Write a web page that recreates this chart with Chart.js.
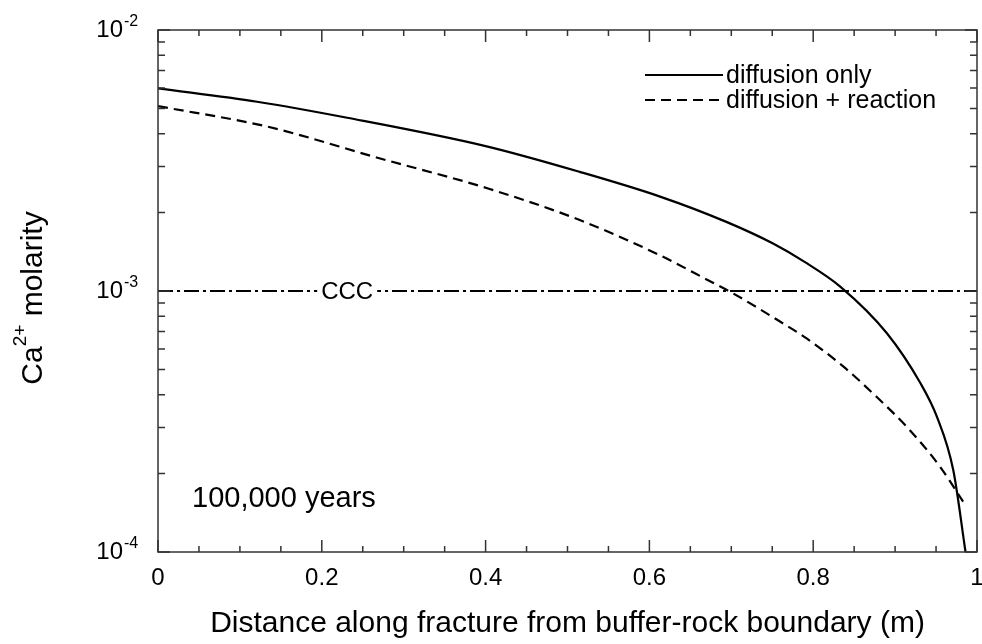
<!DOCTYPE html>
<html>
<head>
<meta charset="utf-8">
<script src="https://cdn.jsdelivr.net/npm/chart.js@4/dist/chart.umd.min.js"></script>
<style>
html,body{margin:0;padding:0;background:#fff;}
canvas{display:block;}
</style>
</head>
<body>
<canvas id="c" width="982" height="644"></canvas>
<script>
// ---- data ----
const seriesNames = ['diffusion only', 'diffusion + reaction', 'CCC'];
const xSolid = [0, 0.121, 0.231, 0.40, 0.515, 0.613, 0.694, 0.751, 0.79, 0.833, 0.89, 0.931, 0.951, 0.971, 0.986];
const ySolid = [5.98e-3, 5.31e-3, 4.61e-3, 3.59e-3, 2.86e-3, 2.30e-3, 1.84e-3, 1.52e-3, 1.29e-3, 1.04e-3, 6.89e-4, 4.43e-4, 3.30e-4, 2.06e-4, 1.0e-4];
const xDashed = [0, 0.134, 0.268, 0.403, 0.515, 0.613, 0.674, 0.702, 0.755, 0.792, 0.837, 0.877, 0.918, 0.955, 0.983];
const yDashed = [5.11e-3, 4.26e-3, 3.24e-3, 2.47e-3, 1.87e-3, 1.37e-3, 1.09e-3, 9.8e-4, 7.79e-4, 6.58e-4, 5.13e-4, 3.94e-4, 2.93e-4, 2.12e-4, 1.56e-4];
const xCCC = [0, 1];
const yCCC = [1e-3, 1e-3];
const cccLabelX = 0.231;

const xMajorTicks = [0, 0.2, 0.4, 0.6, 0.8, 1];
const xTickLabels = ['0', '0.2', '0.4', '0.6', '0.8', '1'];
const xMinorTicks = [0.05, 0.1, 0.15, 0.25, 0.3, 0.35, 0.45, 0.5, 0.55, 0.65, 0.7, 0.75, 0.85, 0.9, 0.95];
const yMajorTicks = [1e-4, 1e-3, 1e-2];
const yTickExponents = ['-4', '-3', '-2'];
const yMinorTicks = [2e-4, 3e-4, 4e-4, 5e-4, 6e-4, 7e-4, 8e-4, 9e-4, 2e-3, 3e-3, 4e-3, 5e-3, 6e-3, 7e-3, 8e-3, 9e-3];

const xTitle = 'Distance along fracture from buffer-rock boundary (m)';
const yTitleParts = ['Ca', '2+', ' molarity'];
const annotationText = '100,000 years';

const FONT = '"Liberation Sans", Arial, Helvetica, sans-serif';
const toPts = (xs, ys) => xs.map((x, i) => ({x: x, y: ys[i]}));

const decor = {
  id: 'decor',
  afterDatasetsDraw(chart) {
    const ctx = chart.ctx;
    const xs = chart.scales.x, ys = chart.scales.y;
    ctx.save();
    const cy = ys.getPixelForValue(1e-3);
    const cx = xs.getPixelForValue(cccLabelX);
    ctx.font = '24px ' + FONT;
    const w = ctx.measureText('CCC').width;
    ctx.fillStyle = '#fff';
    ctx.fillRect(cx - w / 2 - 4, cy - 6, w + 8, 12);
    ctx.fillStyle = '#000';
    ctx.textAlign = 'center';
    ctx.textBaseline = 'middle';
    ctx.fillText('CCC', cx, cy + 1);
    ctx.restore();
  },
  afterDraw(chart) {
    const ctx = chart.ctx;
    const a = chart.chartArea;
    const xs = chart.scales.x, ys = chart.scales.y;
    ctx.save();
    ctx.strokeStyle = '#333';
    ctx.lineWidth = 1.5;
    ctx.strokeRect(a.left, a.top, a.right - a.left, a.bottom - a.top);
    ctx.beginPath();
    xMajorTicks.forEach(v => {
      const p = xs.getPixelForValue(v);
      ctx.moveTo(p, a.bottom); ctx.lineTo(p, a.bottom - 12);
      ctx.moveTo(p, a.top); ctx.lineTo(p, a.top + 12);
    });
    xMinorTicks.forEach(v => {
      const p = xs.getPixelForValue(v);
      ctx.moveTo(p, a.bottom); ctx.lineTo(p, a.bottom - 6);
      ctx.moveTo(p, a.top); ctx.lineTo(p, a.top + 6);
    });
    yMajorTicks.forEach(v => {
      const p = ys.getPixelForValue(v);
      ctx.moveTo(a.left, p); ctx.lineTo(a.left + 12, p);
      ctx.moveTo(a.right, p); ctx.lineTo(a.right - 12, p);
    });
    yMinorTicks.forEach(v => {
      const p = ys.getPixelForValue(v);
      ctx.moveTo(a.left, p); ctx.lineTo(a.left + 7, p);
      ctx.moveTo(a.right, p); ctx.lineTo(a.right - 7, p);
    });
    ctx.stroke();

    ctx.fillStyle = '#000';
    yMajorTicks.forEach((v, i) => {
      const p = ys.getPixelForValue(v);
      ctx.font = '24px ' + FONT;
      ctx.textAlign = 'right';
      ctx.textBaseline = 'alphabetic';
      ctx.fillText('10', 123, p + 7);
      ctx.font = '16px ' + FONT;
      ctx.textAlign = 'left';
      ctx.fillText(yTickExponents[i], 124, p - 4);
    });

    ctx.save();
    const midY = (a.top + a.bottom) / 2;
    ctx.font = '30px ' + FONT;
    const w1 = ctx.measureText(yTitleParts[0]).width;
    const w3 = ctx.measureText(yTitleParts[2]).width;
    ctx.font = '19px ' + FONT;
    const w2 = ctx.measureText(yTitleParts[1]).width;
    const total = w1 + w2 + w3;
    ctx.translate(42, midY + 7 + total / 2);
    ctx.rotate(-Math.PI / 2);
    ctx.textAlign = 'left';
    ctx.textBaseline = 'alphabetic';
    ctx.font = '30px ' + FONT;
    ctx.fillText(yTitleParts[0], 0, 0);
    ctx.font = '19px ' + FONT;
    ctx.fillText(yTitleParts[1], w1, -16);
    ctx.font = '30px ' + FONT;
    ctx.fillText(yTitleParts[2], w1 + w2, 0);
    ctx.restore();

    const ds = chart.data.datasets;
    [0, 1].forEach(i => {
      const y = a.top + 45 + i * 25;
      ctx.save();
      ctx.strokeStyle = ds[i].borderColor;
      ctx.lineWidth = ds[i].borderWidth;
      ctx.setLineDash(ds[i].borderDash || []);
      ctx.beginPath();
      ctx.moveTo(a.right - 332, y);
      ctx.lineTo(a.right - 254, y);
      ctx.stroke();
      ctx.restore();
      ctx.font = '25px ' + FONT;
      ctx.textAlign = 'left';
      ctx.textBaseline = 'middle';
      ctx.fillStyle = '#000';
      ctx.fillText(ds[i].label, a.right - 251, y + 1);
    });

    ctx.font = '29px ' + FONT;
    ctx.textAlign = 'left';
    ctx.textBaseline = 'alphabetic';
    ctx.fillText(annotationText, a.left + 34, a.bottom - 45);
    ctx.restore();
  }
};

new Chart(document.getElementById('c'), {
  type: 'line',
  data: {
    datasets: [
      { label: seriesNames[0], data: toPts(xSolid, ySolid), borderColor: '#000', borderWidth: 2.2,
        pointRadius: 0, fill: false, cubicInterpolationMode: 'monotone' },
      { label: seriesNames[1], data: toPts(xDashed, yDashed), borderColor: '#000', borderWidth: 2.2,
        borderDash: [10, 6], pointRadius: 0, fill: false, cubicInterpolationMode: 'monotone' },
      { label: seriesNames[2], data: toPts(xCCC, yCCC), borderColor: '#000', borderWidth: 2,
        borderDash: [15, 4, 3, 4], pointRadius: 0, fill: false }
    ]
  },
  options: {
    responsive: false,
    animation: false,
    devicePixelRatio: 1,
    layout: { padding: { top: 30, right: 5, left: 0, bottom: 0 } },
    plugins: { legend: { display: false }, tooltip: { enabled: false } },
    scales: {
      x: {
        type: 'linear', min: 0, max: 1,
        afterFit: s => { s.height = 92; s.paddingLeft = 0; s.paddingRight = 0; },
        afterBuildTicks: s => { s.ticks = xMajorTicks.map(v => ({ value: v })); },
        grid: { display: false, drawTicks: false },
        border: { display: false },
        ticks: {
          color: '#000', font: { family: FONT, size: 24 }, padding: 12, maxRotation: 0,
          callback: (v, i) => xTickLabels[i]
        },
        title: { display: true, text: xTitle, color: '#000', font: { family: FONT, size: 30 },
                 padding: { top: 0, bottom: 2 } }
      },
      y: {
        type: 'logarithmic', min: 1e-4, max: 1e-2,
        afterFit: s => { s.width = 158; s.paddingTop = 0; s.paddingBottom = 0; },
        afterBuildTicks: s => { s.ticks = yMajorTicks.map(v => ({ value: v })); },
        grid: { display: false, drawTicks: false },
        border: { display: false },
        ticks: { display: false }
      }
    }
  },
  plugins: [decor]
});
</script>
</body>
</html>
